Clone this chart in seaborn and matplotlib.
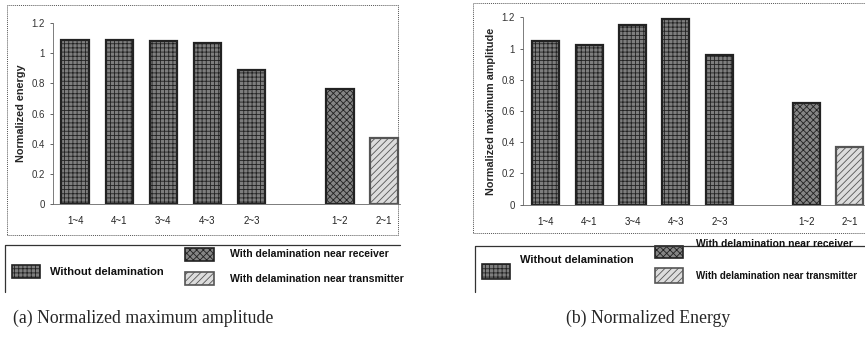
import matplotlib
matplotlib.use("Agg")
import matplotlib.pyplot as plt
from matplotlib.patches import Rectangle
from matplotlib.lines import Line2D
import seaborn as sns
import pandas as pd

# ---- data ----
pairs = ["1~4", "4~1", "3~4", "4~3", "2~3", "1~2", "2~1"]
groups = ["Without delamination"] * 5 + ["With delamination near receiver",
                                         "With delamination near transmitter"]
energy_a = [1.09, 1.09, 1.08, 1.07, 0.89, 0.76, 0.44]
amplitude_b = [1.05, 1.02, 1.15, 1.19, 0.96, 0.65, 0.37]
yticks = [0, 0.2, 0.4, 0.6, 0.8, 1, 1.2]
ytick_labels = ["0", "0.2", "0.4", "0.6", "0.8", "1", "1.2"]
order = pairs[:5] + [" "] + pairs[5:]
group_levels = ["Without delamination", "With delamination near receiver",
                "With delamination near transmitter"]

sns.set_theme(style="white")
plt.rcParams["font.family"] = ["Liberation Sans", "DejaVu Sans"]
plt.rcParams["hatch.linewidth"] = 0.6

face = {"Without delamination": "#7e7e7e",
        "With delamination near receiver": "#858585",
        "With delamination near transmitter": "#dcdcdc"}
hatch = {"Without delamination": "++++",
         "With delamination near receiver": "xxxxx",
         "With delamination near transmitter": "/////"}
edge = {"Without delamination": "#222222",
        "With delamination near receiver": "#222222",
        "With delamination near transmitter": "#555555"}

W, H = 865, 337
fig = plt.figure(figsize=(W / 100, H / 100), dpi=100)


def fx(px):
    return px / W


def fy(py):
    return 1 - py / H


def panel(rect, values, ylabel):
    ax = fig.add_axes(rect)
    df = pd.DataFrame({"pair": pairs, "value": values, "group": groups})
    sns.barplot(data=df, x="pair", y="value", hue="group", order=order,
                hue_order=group_levels, palette=face, dodge=False,
                width=0.62, ax=ax, legend=False, saturation=1)
    for lvl, cont in zip(group_levels, ax.containers):
        for b in cont:
            b.set_hatch(hatch[lvl])
            b.set_edgecolor(edge[lvl])
            b.set_linewidth(1.6)
    ax.set_ylim(0, 1.2)
    ax.set_yticks(yticks)
    ax.set_yticklabels(ytick_labels, fontsize=7, color="#333333")
    ax.tick_params(axis="x", length=0, labelsize=7, pad=9, colors="#222222")
    ax.tick_params(axis="y", length=2, width=0.5, pad=4, left=True)
    ax.set_xlabel("")
    ax.set_ylabel(ylabel, fontsize=7.8, fontweight="bold", labelpad=4)
    for s in ["top", "right"]:
        ax.spines[s].set_visible(False)
    for s in ["left", "bottom"]:
        ax.spines[s].set_color("#666666")
        ax.spines[s].set_linewidth(0.6)
        ax.spines[s].set_linestyle((0, (1, 1)))
    return ax


axA = panel([fx(53), fy(204), fx(400) - fx(53), fy(23) - fy(204)],
            energy_a, "Normalized energy")
axA.set_xlim(-0.5, 7.36)
axB = panel([fx(523), fy(204.7), 1 - fx(523), fy(17.3) - fy(204.7)],
            amplitude_b, "Normalized maximum amplitude")
axB.set_xlim(-0.52, 7.35)


# ---- frames ----
def frame(x0, y0, x1, y1, ls, lw=0.7, color="#555555"):
    fig.add_artist(Rectangle((fx(x0), fy(y1)), fx(x1) - fx(x0), fy(y0) - fy(y1),
                             transform=fig.transFigure, fill=False,
                             linestyle=ls, linewidth=lw, edgecolor=color,
                             clip_on=False))


def corner(x0, y0, x1, y1):
    # top and left border of a legend box
    fig.add_artist(Line2D([fx(x0), fx(x0), fx(x1)], [fy(y1), fy(y0), fy(y0)],
                          transform=fig.transFigure, color="#333333",
                          linewidth=0.9))


frame(7, 5, 398, 235, (0, (1, 1)))
frame(473, 3, 866, 233, (0, (1, 1)))
corner(5, 245, 400, 292)
corner(475, 246, 866, 292)


# ---- legends ----
def swatch(x0, y0, x1, y1, lvl):
    fig.add_artist(Rectangle((fx(x0), fy(y1)), fx(x1) - fx(x0), fy(y0) - fy(y1),
                             transform=fig.transFigure, facecolor=face[lvl],
                             hatch=hatch[lvl], edgecolor=edge[lvl],
                             linewidth=1.2))


def label(x, y, s, fs=7.8):
    fig.text(fx(x), fy(y), s, fontsize=fs, fontweight="bold", va="center",
             ha="left", color="#111111")


swatch(12, 265, 40, 278, group_levels[0])
label(50, 272, group_levels[0], 8.0)
swatch(185, 248, 214, 261, group_levels[1])
label(230, 254, group_levels[1], 7.6)
swatch(185, 272, 214, 285, group_levels[2])
label(230, 279, group_levels[2], 7.6)

swatch(482, 264, 510, 279, group_levels[0])
label(520, 260, group_levels[0], 8.0)
swatch(655, 246, 683, 258, group_levels[1])
label(696, 244, group_levels[1], 7.4)
swatch(655, 268, 683, 283, group_levels[2])
label(696, 276, group_levels[2], 7.0)

# ---- captions ----
fig.text(fx(143), fy(318), "(a) Normalized maximum amplitude",
         fontsize=12.8, family="Liberation Serif", ha="center", va="center")
fig.text(fx(648), fy(318), "(b) Normalized Energy",
         fontsize=12.8, family="Liberation Serif", ha="center", va="center")

fig.savefig("out.png", dpi=100)
